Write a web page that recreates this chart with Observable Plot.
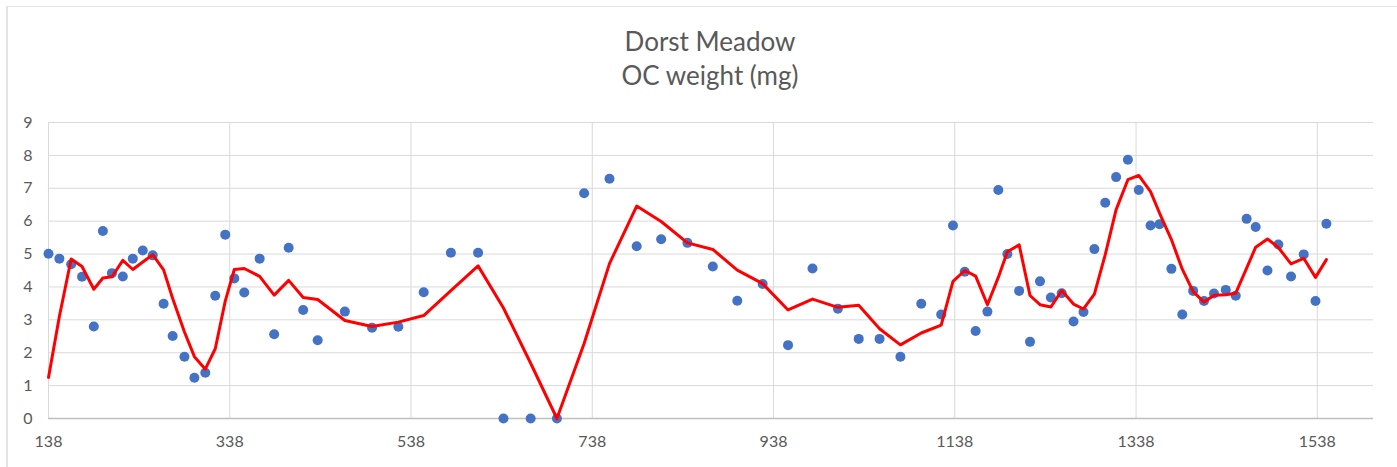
<!DOCTYPE html>
<html>
<head>
<meta charset="utf-8">
<script src="https://cdn.jsdelivr.net/npm/d3@7"></script>
<script src="https://cdn.jsdelivr.net/npm/@observablehq/plot@0.6"></script>
<style>
  html, body { margin: 0; padding: 0; background: #fff; }
  #wrap { position: relative; width: 1397px; height: 467px; overflow: hidden; font-family: Lato, "Open Sans", sans-serif; }
  #frame { position: absolute; left: 6px; top: 6px; width: 1500px; height: 600px; border-top: 1px solid #e3e3e3; border-left: 2px solid #e3e3e3; box-sizing: border-box; }
  .title { position: absolute; left: 0; width: 1420px; text-align: center; color: #595959; font-size: 26px; line-height: 26px; white-space: nowrap; }
  #chart { position: absolute; left: 0; top: 0; }
</style>
</head>
<body>
<div id="wrap">
  <div id="frame"></div>
  <div id="chart"></div>
  <div class="title" id="t1" style="top:28px">Dorst Meadow</div>
  <div class="title" id="t2" style="top:62px">OC weight (mg)</div>
</div>
<script>
// Depth (x) of each sample
const depths = [138,150,163,175,188,198,208,220,231,242,
  253,265,275,288,299,311,322,333,343,354,
  371,387,403,419,435,465,495,524,552,582,
  612,640,670,699,729,757,787,814,843,871,
  898,926,954,981,1009,1032,1055,1078,1101,1123,
  1136,1149,1161,1174,1186,1196,1209,1221,1232,1244,
  1256,1269,1280,1292,1304,1316,1329,1341,1354,1364,
  1377,1389,1401,1413,1424,1437,1448,1460,1470,1483,
  1495,1509,1523,1536,1548];

// OC weight (mg) for each sample
const ocWeight = [5.01,4.86,4.69,4.31,2.80,5.70,4.42,4.32,4.86,5.11,
  4.96,3.49,2.51,1.88,1.24,1.39,3.73,5.59,4.26,3.83,
  4.86,2.56,5.19,3.30,2.38,3.25,2.76,2.79,3.84,5.04,
  5.04,0,0,0,6.85,7.29,5.24,5.45,5.34,4.62,
  3.58,4.09,2.23,4.56,3.34,2.42,2.42,1.88,3.49,3.16,
  5.87,4.46,2.66,3.25,6.95,5.00,3.88,2.33,4.17,3.68,
  3.81,2.95,3.24,5.15,6.56,7.34,7.87,6.95,5.87,5.91,
  4.55,3.16,3.88,3.57,3.80,3.91,3.73,6.07,5.82,4.50,
  5.29,4.32,4.99,3.57,5.92];

// Red trend line (moving average) value at each sample
const trend = [1.25,3.10,4.85,4.62,3.93,4.27,4.31,4.81,4.53,4.76,
  4.98,4.52,3.65,2.63,1.88,1.50,2.12,3.57,4.53,4.56,
  4.32,3.75,4.20,3.68,3.62,2.98,2.80,2.93,3.13,3.89,
  4.64,3.36,1.68,0,2.28,4.71,6.46,5.99,5.34,5.14,
  4.51,4.10,3.30,3.63,3.38,3.44,2.73,2.24,2.60,2.84,
  4.17,4.50,4.33,3.46,4.29,5.07,5.28,3.74,3.46,3.39,
  3.89,3.48,3.33,3.78,4.98,6.35,7.26,7.39,6.90,6.24,
  5.44,4.54,3.86,3.54,3.75,3.76,3.81,4.57,5.21,5.46,
  5.20,4.70,4.87,4.29,4.83];

const xTicks = [138,338,538,738,938,1138,1338,1538];
const yTicks = [0,1,2,3,4,5,6,7,8,9];

const points = depths.map((d, i) => ({depth: d, oc: ocWeight[i]}));
const trendPts = depths.map((d, i) => ({depth: d, oc: trend[i]}));

const chart = Plot.plot({
  width: 1397,
  height: 467,
  marginTop: 122,
  marginBottom: 49,
  marginLeft: 48,
  marginRight: 24,
  style: {fontFamily: "Lato, 'Open Sans', sans-serif", fontSize: "16px", color: "#595959", background: "transparent", overflow: "visible"},
  x: {domain: [138, 1600], ticks: xTicks, tickFormat: d => String(d), tickSize: 0, tickPadding: 17, label: null},
  y: {domain: [0, 9], ticks: yTicks, tickFormat: d => String(d), tickSize: 0, tickPadding: 16, label: null},
  marks: [
    Plot.ruleY(yTicks.slice(1), {stroke: "#d9d9d9", strokeWidth: 1}),
    Plot.ruleX(xTicks, {stroke: "#d9d9d9", strokeWidth: 1}),
    Plot.ruleY([0], {stroke: "#bfbfbf", strokeWidth: 1.3}),
    Plot.dot(points, {x: "depth", y: "oc", r: 5, fill: "#4472C4", stroke: "none"}),
    Plot.line(trendPts, {x: "depth", y: "oc", stroke: "#FF0000", strokeWidth: 3, strokeLinejoin: "round"})
  ]
});
document.getElementById("chart").appendChild(chart);
</script>
</body>
</html>
